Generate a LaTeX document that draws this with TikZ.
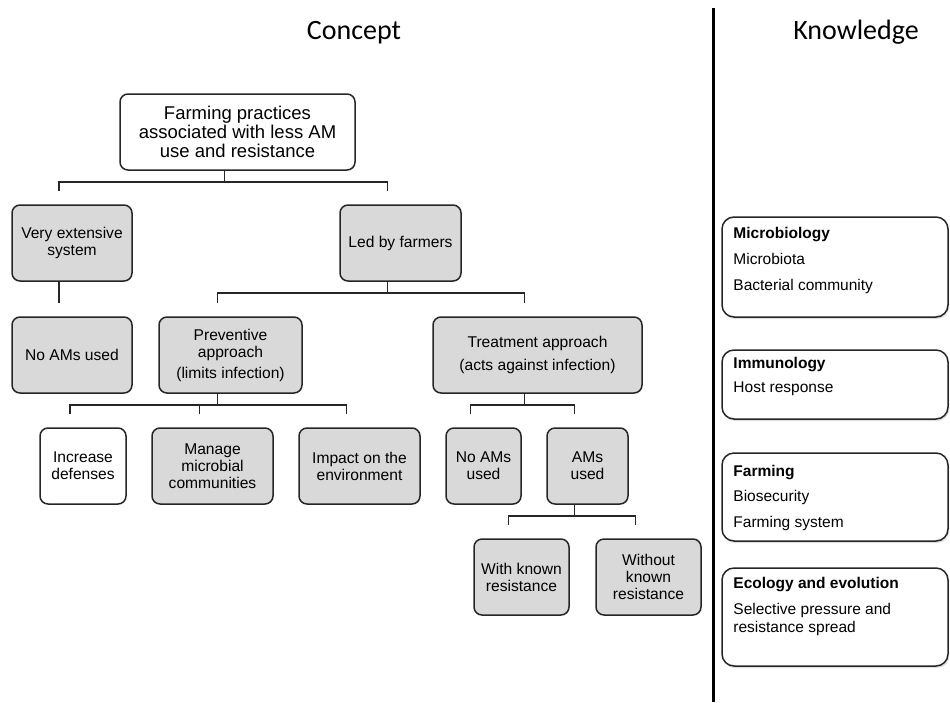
\documentclass[tikz,border=0pt]{standalone}
\usepackage{fontspec}
\setmainfont{Liberation Sans}
\newfontfamily\titlefont{Carlito}
\usetikzlibrary{shadows}
\definecolor{boxgray}{HTML}{D9D9D9}
\definecolor{linecol}{HTML}{262626}
\tikzset{
  tbox/.style={draw=linecol, line width=1.5pt, rounded corners=8pt, fill=boxgray,
    align=center, inner sep=0pt, font=\fontsize{15.6}{17}\selectfont},
  wbox/.style={tbox, fill=white},
  kbox/.style={draw=linecol, line width=1.5pt, rounded corners=12pt, fill=white,
    inner sep=0pt, minimum width=226pt,
    drop shadow={opacity=0.25, shadow xshift=1.2pt, shadow yshift=-2pt}},
  ktext/.style={anchor=north west, align=left, inner sep=0pt,
    font=\fontsize{15.5}{18}\selectfont},
  conn/.style={draw=linecol, line width=1.8pt},
  ttl/.style={anchor=base, font=\titlefont\fontsize{28}{30}\selectfont}
}
\begin{document}
\begin{tikzpicture}[x=1pt,y=-1pt]
\useasboundingbox (0,0) rectangle (950,702);

% titles
\node[ttl] (concept) at (354,39) {Concept};
\node[ttl] (knowledge) at (856,39) {Knowledge};

% divider
\draw[line width=3pt, draw=black] (713,8) -- (713,702);

% tree boxes
\node[wbox, minimum width=235pt, minimum height=76pt, font=\fontsize{18.5}{19}\selectfont] (top) at (237.5,132)
  {Farming practices\\associated with less AM\\use and resistance};
\node[tbox, minimum width=120pt, minimum height=76pt] (ves) at (72,243) {Very extensive\\system};
\node[tbox, minimum width=121pt, minimum height=76pt] (led) at (400.5,243) {Led by farmers};
\node[tbox, minimum width=120pt, minimum height=76pt] (noam1) at (72,355) {No AMs used};
\node[tbox, minimum width=143pt, minimum height=76pt] (prev) at (230.5,355) {Preventive\\approach\\[4pt](limits infection)};
\node[tbox, minimum width=209pt, minimum height=76pt] (treat) at (537.5,355) {Treatment approach\\[6pt](acts against infection)};
\node[wbox, minimum width=86pt, minimum height=76pt] (inc) at (83,466) {Increase\\defenses};
\node[tbox, minimum width=121pt, minimum height=76pt] (man) at (212.5,466) {Manage\\microbial\\communities};
\node[tbox, minimum width=121pt, minimum height=76pt] (imp) at (359.5,466) {Impact on the\\environment};
\node[tbox, minimum width=75pt, minimum height=76pt] (noam2) at (483.5,466) {No AMs\\used};
\node[tbox, minimum width=81pt, minimum height=76pt] (ams) at (587.5,466) {AMs\\used};
\node[tbox, minimum width=95pt, minimum height=76pt] (withk) at (521.5,577) {With known\\resistance};
\node[tbox, minimum width=105pt, minimum height=76pt] (without) at (648.5,577) {Without\\known\\resistance};

% connectors
\draw[conn] ([xshift=-13pt]top.south) -- ++(0,11) coordinate (j1);
\draw[conn] ([xshift=-13pt,yshift=13pt]ves.north) |- (j1) -| ([xshift=-13pt,yshift=13pt]led.north);
\draw[conn] ([xshift=-13pt]ves.south) -- ([xshift=-13pt,yshift=13pt]noam1.north);
\draw[conn] ([xshift=-13pt]led.south) -- ++(0,11) coordinate (j2);
\draw[conn] ([xshift=-13pt,yshift=13pt]prev.north) |- (j2) -| ([xshift=-13pt,yshift=13pt]treat.north);
\draw[conn] ([xshift=-13pt]prev.south) -- ++(0,11) coordinate (j3);
\draw[conn] ([xshift=-13pt,yshift=13pt]inc.north) |- (j3) -| ([xshift=-13pt,yshift=13pt]imp.north);
\draw[conn] ([xshift=-13pt,yshift=13pt]man.north) |- (j3);
\draw[conn] ([xshift=-13pt]treat.south) -- ++(0,11) coordinate (j4);
\draw[conn] ([xshift=-13pt,yshift=13pt]noam2.north) |- (j4) -| ([xshift=-13pt,yshift=13pt]ams.north);
\draw[conn] ([xshift=-13pt]ams.south) -- ++(0,11) coordinate (j5);
\draw[conn] ([xshift=-13pt,yshift=13pt]withk.north) |- (j5) -| ([xshift=-13pt,yshift=13pt]without.north);

% knowledge boxes
\node[kbox, minimum height=100pt] (mic) at (835,267) {};
\node[kbox, minimum height=69pt] (imm) at (835,384.5) {};
\node[kbox, minimum height=88pt] (far) at (835,497) {};
\node[kbox, minimum height=98pt] (eco) at (835,617) {};

\node[ktext] (mictxt) at ([shift={(12,11)}]mic.north west)
  {\textbf{Microbiology}\\[8pt]Microbiota\\[8pt]Bacterial community};
\node[ktext] (immtxt) at ([shift={(12,8)}]imm.north west)
  {\textbf{Immunology}\\[6pt]Host response};
\node[ktext] (fartxt) at ([shift={(12,12.5)}]far.north west)
  {\textbf{Farming}\\[7pt]Biosecurity\\[8.5pt]Farming system};
\node[ktext] (ecotxt) at ([shift={(12,10)}]eco.north west)
  {\textbf{Ecology and evolution}\\[8pt]Selective pressure and\\resistance spread};
\end{tikzpicture}
\end{document}
